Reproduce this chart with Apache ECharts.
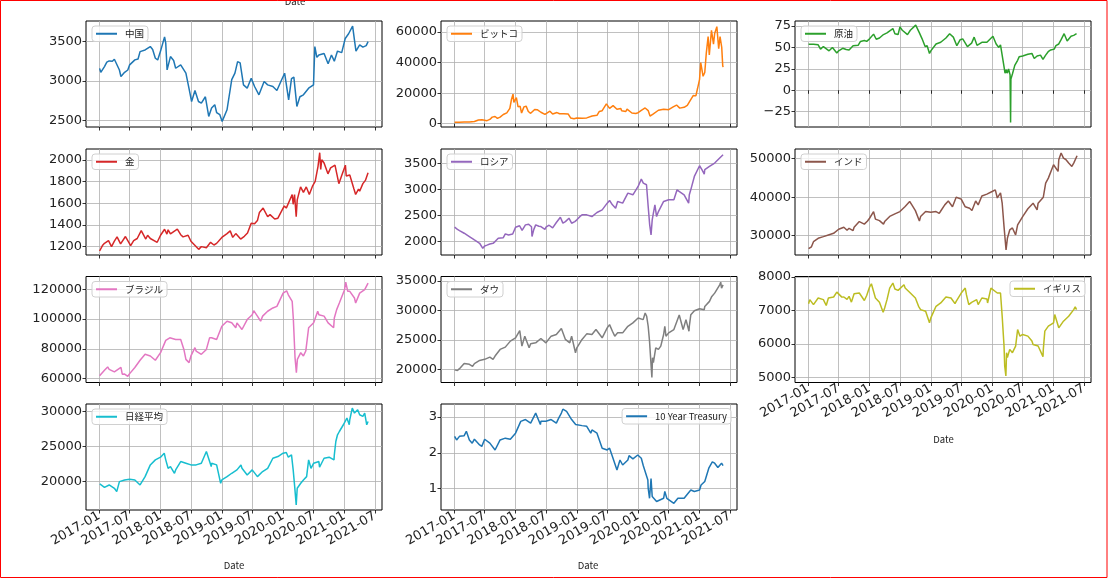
<!DOCTYPE html>
<html><head><meta charset="utf-8">
<script src="https://cdn.jsdelivr.net/npm/echarts@6/dist/echarts.min.js"></script>
<style>html,body{margin:0;padding:0;background:#fff}#c{width:1109px;height:579px}</style>
</head><body><div id="c"></div><script>
const china = [['2017-01-03',3160],['2017-01-10',3110],['2017-02-01',3183],['2017-02-15',3240],['2017-03-01',3255],['2017-03-20',3250],['2017-04-01',3276],['2017-04-10',3297],['2017-05-01',3140],['2017-05-10',3057],['2017-06-01',3110],['2017-06-20',3140],['2017-07-01',3205],['2017-08-01',3268],['2017-08-20',3280],['2017-09-01',3373],['2017-10-01',3394],['2017-11-01',3437],['2017-11-15',3400],['2017-12-01',3289],['2017-12-15',3268],['2018-01-01',3380],['2018-01-25',3560],['2018-02-01',3480],['2018-02-09',3141],['2018-03-01',3310],['2018-03-20',3260],['2018-04-01',3162],['2018-05-01',3205],['2018-06-01',3100],['2018-06-20',2900],['2018-07-05',2740],['2018-07-25',2880],['2018-08-15',2740],['2018-09-01',2719],['2018-09-25',2800],['2018-10-15',2550],['2018-11-01',2656],['2018-11-20',2700],['2018-12-01',2600],['2018-12-20',2572],['2019-01-03',2487],['2019-02-01',2635],['2019-03-01',3017],['2019-03-20',3100],['2019-04-05',3247],['2019-04-20',3230],['2019-05-10',2951],['2019-06-01',2909],['2019-06-25',3036],['2019-07-15',2930],['2019-08-10',2825],['2019-09-10',2993],['2019-10-01',2951],['2019-11-01',2930],['2019-11-25',2880],['2019-12-20',3000],['2020-01-10',3099],['2020-02-03',2761],['2020-02-20',3030],['2020-03-05',3050],['2020-03-23',2677],['2020-04-10',2800],['2020-05-01',2825],['2020-06-01',2909],['2020-06-30',2951],['2020-07-08',3437],['2020-07-20',3300],['2020-08-01',3331],['2020-09-01',3350],['2020-09-25',3220],['2020-10-15',3330],['2020-11-01',3252],['2020-11-20',3380],['2020-12-15',3360],['2021-01-05',3540],['2021-01-25',3600],['2021-02-18',3698],['2021-03-01',3520],['2021-03-10',3380],['2021-04-01',3458],['2021-04-20',3430],['2021-05-10',3450],['2021-05-21',3500]];
const bitcoin = [['2017-01-03',1000],['2017-02-01',1000],['2017-03-01',1200],['2017-04-01',1100],['2017-05-01',1400],['2017-05-25',2400],['2017-06-15',2600],['2017-07-15',2000],['2017-08-01',2800],['2017-08-15',4300],['2017-09-01',4700],['2017-09-15',3500],['2017-10-01',4300],['2017-10-20',6000],['2017-11-10',7100],['2017-11-28',10000],['2017-12-08',16000],['2017-12-17',19300],['2017-12-22',14000],['2018-01-06',17000],['2018-01-16',11000],['2018-01-28',11500],['2018-02-06',7000],['2018-02-20',11000],['2018-03-05',11500],['2018-03-18',8000],['2018-04-01',6800],['2018-04-25',9300],['2018-05-10',9200],['2018-06-01',7500],['2018-06-25',6100],['2018-07-25',8200],['2018-08-10',6300],['2018-09-05',7300],['2018-09-20',6500],['2018-10-15',6500],['2018-11-10',6400],['2018-11-25',3800],['2018-12-15',3300],['2019-01-01',3800],['2019-02-01',3500],['2019-03-01',3800],['2019-04-02',5000],['2019-05-01',5500],['2019-05-15',8000],['2019-06-01',8500],['2019-06-26',13000],['2019-07-15',10000],['2019-08-05',11800],['2019-08-28',9500],['2019-09-20',10000],['2019-09-25',8500],['2019-10-20',8000],['2019-10-27',9500],['2019-11-25',7000],['2019-12-18',6700],['2020-01-01',7200],['2020-01-20',8700],['2020-02-12',10300],['2020-03-01',8600],['2020-03-12',5000],['2020-04-01',6500],['2020-05-01',8800],['2020-06-01',9500],['2020-07-01',9200],['2020-07-28',11000],['2020-08-17',12200],['2020-09-05',10200],['2020-10-01',10700],['2020-10-20',12000],['2020-11-05',15000],['2020-11-25',18500],['2020-12-10',18200],['2020-12-20',23000],['2021-01-01',29000],['2021-01-08',40000],['2021-01-22',31000],['2021-02-01',33500],['2021-02-10',46000],['2021-02-21',57000],['2021-02-28',45000],['2021-03-13',61000],['2021-03-25',52000],['2021-04-01',59000],['2021-04-14',63500],['2021-04-25',49000],['2021-05-03',57000],['2021-05-10',56000],['2021-05-13',50000],['2021-05-19',38000],['2021-05-21',37000]];
const oil = [['2017-01-03',53.7],['2017-01-10',52],['2017-02-01',53.7],['2017-03-01',53],['2017-03-15',48],['2017-04-01',51],['2017-04-12',53],['2017-05-05',46],['2017-05-25',50],['2017-06-01',48],['2017-06-20',43.5],['2017-07-01',46],['2017-07-25',49],['2017-08-15',47.5],['2017-09-01',47],['2017-09-25',52],['2017-10-05',50],['2017-10-25',52.5],['2017-11-08',57],['2017-12-01',58],['2017-12-15',57],['2018-01-01',60],['2018-01-25',65.5],['2018-02-10',59.5],['2018-03-01',61],['2018-03-25',65],['2018-04-15',67],['2018-05-20',72],['2018-06-01',66],['2018-06-20',65],['2018-07-01',74],['2018-07-15',70],['2018-08-15',65],['2018-09-01',70],['2018-10-03',76],['2018-10-25',67],['2018-11-10',60],['2018-11-28',51],['2018-12-10',52],['2018-12-24',43],['2019-01-01',46],['2019-02-01',54],['2019-03-01',56],['2019-04-01',61],['2019-04-23',66],['2019-05-15',62],['2019-06-05',52],['2019-06-25',59],['2019-07-10',60],['2019-08-07',51],['2019-09-01',55],['2019-09-16',62],['2019-10-03',52.5],['2019-11-01',56],['2019-12-01',56],['2020-01-06',63],['2020-01-25',54],['2020-02-10',50],['2020-02-20',53],['2020-03-09',31],['2020-03-18',20],['2020-03-25',24],['2020-04-01',20],['2020-04-08',25],['2020-04-17',18],['2020-04-20',-37.6],['2020-04-22',13],['2020-05-01',19],['2020-05-15',29],['2020-06-01',35],['2020-06-10',39],['2020-07-01',40],['2020-08-01',42],['2020-08-25',43],['2020-09-08',37],['2020-09-25',40],['2020-10-15',41],['2020-10-30',36],['2020-11-15',41],['2020-11-30',45],['2020-12-15',47],['2021-01-05',48],['2021-01-15',52],['2021-02-01',54],['2021-02-15',59],['2021-03-05',66],['2021-03-23',57.5],['2021-04-01',59],['2021-04-15',63],['2021-05-01',64],['2021-05-10',65],['2021-05-18',66]];
const gold = [['2017-01-03',1160],['2017-01-20',1210],['2017-02-01',1231],['2017-02-25',1255],['2017-03-15',1200],['2017-04-01',1250],['2017-04-17',1290],['2017-05-08',1225],['2017-06-06',1293],['2017-07-07',1210],['2017-07-25',1255],['2017-08-15',1275],['2017-09-08',1348],['2017-10-05',1270],['2017-10-16',1305],['2017-11-01',1275],['2017-12-12',1240],['2018-01-01',1305],['2018-01-25',1360],['2018-02-08',1315],['2018-02-15',1355],['2018-03-01',1318],['2018-04-11',1362],['2018-05-01',1310],['2018-05-15',1290],['2018-06-14',1305],['2018-07-01',1250],['2018-08-16',1175],['2018-09-01',1200],['2018-10-01',1190],['2018-10-26',1240],['2018-11-15',1215],['2018-12-01',1230],['2019-01-01',1285],['2019-02-01',1320],['2019-02-20',1345],['2019-03-07',1285],['2019-03-25',1320],['2019-04-23',1270],['2019-05-15',1295],['2019-06-03',1325],['2019-06-25',1415],['2019-07-15',1410],['2019-08-01',1440],['2019-08-13',1515],['2019-09-04',1555],['2019-10-01',1475],['2019-10-15',1495],['2019-11-12',1455],['2019-12-01',1462],['2020-01-08',1575],['2020-01-20',1555],['2020-02-24',1680],['2020-03-01',1590],['2020-03-09',1680],['2020-03-19',1475],['2020-03-25',1630],['2020-04-14',1750],['2020-05-01',1700],['2020-05-18',1750],['2020-06-05',1680],['2020-06-25',1760],['2020-07-10',1800],['2020-07-27',1940],['2020-08-06',2065],['2020-08-12',1910],['2020-08-18',2000],['2020-09-01',1970],['2020-09-24',1870],['2020-10-10',1925],['2020-11-05',1950],['2020-11-28',1780],['2020-12-15',1855],['2021-01-06',1950],['2021-01-11',1850],['2021-02-01',1860],['2021-02-26',1730],['2021-03-08',1680],['2021-03-25',1730],['2021-04-01',1710],['2021-04-20',1780],['2021-05-05',1810],['2021-05-21',1880]];
const russia = [['2017-01-03',2272],['2017-01-20',2230],['2017-02-01',2207],['2017-02-10',2240],['2017-03-01',2155],['2017-04-01',2091],['2017-05-01',2026],['2017-06-01',1961],['2017-06-20',1864],['2017-07-01',1909],['2017-07-15',1925],['2017-08-01',1948],['2017-08-20',1960],['2017-09-01',1994],['2017-09-20',2060],['2017-10-01',2091],['2017-10-20',2070],['2017-11-01',2142],['2017-11-20',2120],['2017-12-01',2155],['2017-12-15',2140],['2018-01-01',2272],['2018-01-25',2300],['2018-02-01',2317],['2018-02-09',2210],['2018-03-01',2317],['2018-03-20',2330],['2018-04-06',2280],['2018-04-09',2091],['2018-04-20',2230],['2018-05-01',2317],['2018-05-20',2290],['2018-06-01',2284],['2018-06-25',2230],['2018-07-01',2272],['2018-07-20',2310],['2018-08-10',2260],['2018-09-01',2362],['2018-09-25',2465],['2018-10-10',2350],['2018-10-25',2380],['2018-11-01',2381],['2018-11-15',2446],['2018-12-01',2349],['2018-12-20',2380],['2019-01-01',2414],['2019-01-20',2480],['2019-02-01',2511],['2019-03-01',2511],['2019-04-01',2478],['2019-05-01',2556],['2019-06-01',2608],['2019-07-01',2737],['2019-07-15',2789],['2019-08-01',2705],['2019-08-20',2640],['2019-09-01',2770],['2019-10-01',2737],['2019-11-01',2931],['2019-12-01',2899],['2020-01-01',3060],['2020-01-20',3203],['2020-02-01',3125],['2020-02-20',3093],['2020-03-01',2672],['2020-03-10',2317],['2020-03-18',2123],['2020-03-25',2414],['2020-04-01',2543],['2020-04-10',2705],['2020-04-20',2478],['2020-05-01',2575],['2020-06-01',2770],['2020-07-01',2802],['2020-08-01',2802],['2020-08-20',2996],['2020-09-01',2964],['2020-10-01',2899],['2020-10-28',2737],['2020-11-01',2900],['2020-11-10',3000],['2020-12-01',3254],['2021-01-01',3461],['2021-01-15',3384],['2021-01-29',3300],['2021-02-01',3384],['2021-03-01',3448],['2021-04-01',3513],['2021-05-01',3610],['2021-05-21',3675]];
const india = [['2017-01-03',26600],['2017-01-20',27100],['2017-02-01',28435],['2017-03-01',29300],['2017-04-01',29740],['2017-05-01',30174],['2017-06-01',30609],['2017-07-01',31652],['2017-08-01',32174],['2017-08-20',31400],['2017-09-01',31913],['2017-09-25',31300],['2017-10-01',32174],['2017-11-01',33652],['2017-12-01',33000],['2017-12-20',33800],['2018-01-01',34522],['2018-01-25',36260],['2018-02-05',34300],['2018-03-01',33900],['2018-03-25',33000],['2018-04-01',33652],['2018-05-01',35000],['2018-06-01',35652],['2018-07-01',36260],['2018-08-01',37600],['2018-08-28',38870],['2018-09-10',38000],['2018-10-01',36500],['2018-10-25',33800],['2018-11-01',34957],['2018-12-01',36260],['2019-01-01',36100],['2019-02-01',36260],['2019-02-20',35800],['2019-03-01',36400],['2019-03-25',38000],['2019-04-15',39000],['2019-05-10',37500],['2019-06-01',40000],['2019-07-01',39500],['2019-07-25',37500],['2019-08-20',37130],['2019-09-03',36522],['2019-09-25',39000],['2019-10-10',38000],['2019-11-01',40300],['2019-12-01',40800],['2020-01-01',41478],['2020-01-20',41900],['2020-02-01',39800],['2020-02-20',41100],['2020-03-01',38435],['2020-03-12',32348],['2020-03-24',26261],['2020-04-01',29304],['2020-04-15',31478],['2020-05-01',32000],['2020-05-20',30174],['2020-06-01',32783],['2020-07-01',34957],['2020-08-01',37000],['2020-09-01',38435],['2020-09-25',36696],['2020-10-01',38435],['2020-11-01',40000],['2020-11-15',43652],['2020-12-01',44957],['2021-01-01',48435],['2021-01-28',46696],['2021-02-01',49739],['2021-02-15',51478],['2021-03-01',50174],['2021-03-15',49800],['2021-04-01',48870],['2021-04-20',48000],['2021-05-01',48870],['2021-05-21',50783]];
const brazil = [['2017-01-03',61800],['2017-02-01',65600],['2017-02-20',67800],['2017-03-01',66200],['2017-04-01',64500],['2017-05-10',67500],['2017-05-18',62900],['2017-06-01',63000],['2017-06-20',61500],['2017-07-01',63300],['2017-08-01',67400],['2017-09-01',72300],['2017-10-01',76300],['2017-11-01',75200],['2017-12-01',72300],['2018-01-01',77400],['2018-02-01',85700],['2018-02-25',87400],['2018-03-01',86300],['2018-04-01',86300],['2018-05-01',86300],['2018-05-20',79600],['2018-06-01',72900],['2018-06-20',70700],['2018-07-01',75200],['2018-07-25',80800],['2018-08-01',78500],['2018-09-01',76300],['2018-10-01',79600],['2018-10-20',87400],['2018-11-01',87400],['2018-12-01',86300],['2019-01-01',95200],['2019-02-01',98600],['2019-03-01',97500],['2019-03-25',94200],['2019-04-01',97500],['2019-05-01',93000],['2019-06-01',99700],['2019-07-01',103000],['2019-07-10',105700],['2019-08-01',102000],['2019-08-20',98600],['2019-09-01',102000],['2019-10-01',105300],['2019-11-01',107500],['2019-11-25',108600],['2019-12-01',109700],['2020-01-01',117500],['2020-01-22',119100],['2020-02-01',116400],['2020-02-24',112000],['2020-03-02',100000],['2020-03-12',74100],['2020-03-20',64000],['2020-03-26',72900],['2020-04-01',71800],['2020-04-15',77400],['2020-05-01',75200],['2020-05-15',78500],['2020-06-01',94200],['2020-07-01',97500],['2020-07-25',105300],['2020-08-01',103000],['2020-09-01',102000],['2020-09-25',97500],['2020-10-01',98600],['2020-10-28',94200],['2020-11-01',100800],['2020-11-15',106400],['2020-12-01',110800],['2021-01-01',119800],['2021-01-08',124900],['2021-01-20',118700],['2021-02-01',118700],['2021-03-01',114200],['2021-03-08',110800],['2021-04-01',117500],['2021-05-01',119800],['2021-05-21',124200]];
const dow = [['2017-01-03',19900],['2017-01-20',19800],['2017-02-01',20110],['2017-03-01',21000],['2017-04-01',20840],['2017-04-20',20500],['2017-05-01',20950],['2017-06-01',21500],['2017-07-01',21690],['2017-08-01',22070],['2017-08-20',21700],['2017-09-01',22250],['2017-10-01',23370],['2017-11-01',23760],['2017-12-01',24780],['2018-01-01',25340],['2018-01-26',26570],['2018-02-08',23930],['2018-02-25',25620],['2018-03-01',25340],['2018-03-23',23650],['2018-04-01',24320],['2018-05-01',24490],['2018-06-01',25220],['2018-07-01',24490],['2018-08-01',25620],['2018-09-01',25900],['2018-10-01',26910],['2018-10-25',25060],['2018-11-01',25220],['2018-11-20',24490],['2018-12-01',25620],['2018-12-24',22810],['2019-01-01',23650],['2019-02-01',25060],['2019-03-01',26010],['2019-04-01',25900],['2019-04-25',26740],['2019-05-01',26460],['2019-06-01',25340],['2019-07-01',27020],['2019-07-15',27580],['2019-08-01',26460],['2019-08-15',25620],['2019-09-01',26180],['2019-10-01',26180],['2019-11-01',27300],['2019-12-01',27870],['2020-01-01',28710],['2020-01-31',28430],['2020-02-12',29550],['2020-02-21',28990],['2020-03-01',27300],['2020-03-09',24780],['2020-03-16',21690],['2020-03-23',18600],['2020-03-27',21970],['2020-04-01',21130],['2020-04-15',23650],['2020-05-01',23370],['2020-05-15',23930],['2020-06-01',25900],['2020-06-08',27300],['2020-06-15',25620],['2020-07-01',26180],['2020-08-01',26740],['2020-09-02',29200],['2020-09-25',26740],['2020-10-01',27300],['2020-10-12',28430],['2020-10-30',26460],['2020-11-01',27300],['2020-11-10',29270],['2020-12-01',29940],['2021-01-01',30280],['2021-01-29',30110],['2021-02-01',30670],['2021-03-01',31520],['2021-03-15',32360],['2021-04-01',32920],['2021-05-01',34320],['2021-05-07',34770],['2021-05-12',33770],['2021-05-21',34320]];
const uk = [['2017-01-03',7200],['2017-01-10',7325],['2017-02-01',7175],['2017-03-01',7374],['2017-04-01',7325],['2017-04-18',7150],['2017-05-01',7374],['2017-06-01',7404],['2017-06-20',7550],['2017-07-01',7523],['2017-07-20',7400],['2017-08-01',7404],['2017-08-20',7330],['2017-09-01',7424],['2017-09-15',7250],['2017-10-01',7503],['2017-11-01',7523],['2017-12-01',7300],['2017-12-15',7450],['2018-01-01',7700],['2018-01-12',7801],['2018-02-05',7374],['2018-03-01',7245],['2018-03-23',6947],['2018-04-01',7076],['2018-04-15',7325],['2018-05-01',7672],['2018-05-20',7821],['2018-06-01',7643],['2018-06-20',7603],['2018-07-01',7573],['2018-07-25',7772],['2018-08-01',7672],['2018-09-01',7523],['2018-10-01',7374],['2018-10-20',7126],['2018-11-01',7026],['2018-12-01',6977],['2018-12-24',6629],['2019-01-01',6778],['2019-02-01',7126],['2019-03-01',7225],['2019-04-01',7404],['2019-05-01',7374],['2019-05-25',7205],['2019-06-01',7275],['2019-07-01',7523],['2019-07-25',7672],['2019-08-01',7474],['2019-08-15',7175],['2019-09-01',7245],['2019-10-01',7325],['2019-10-10',7175],['2019-11-01',7374],['2019-12-01',7344],['2019-12-05',7225],['2019-12-25',7672],['2020-01-01',7623],['2020-02-01',7523],['2020-02-20',7523],['2020-03-01',6828],['2020-03-12',5934],['2020-03-16',5338],['2020-03-23',5040],['2020-03-27',5735],['2020-04-01',5586],['2020-04-15',5834],['2020-05-01',5735],['2020-05-20',5934],['2020-06-01',6430],['2020-06-15',6231],['2020-07-01',6281],['2020-08-01',6231],['2020-08-25',6083],['2020-09-01',5983],['2020-10-01',5934],['2020-10-30',5616],['2020-11-01',5834],['2020-11-10',6381],['2020-12-01',6530],['2021-01-01',6629],['2021-01-08',6877],['2021-02-01',6480],['2021-03-01',6679],['2021-04-01',6828],['2021-05-01',7026],['2021-05-10',7106],['2021-05-18',7026]];
const nikkei = [['2017-01-04',19667],['2017-02-01',19190],['2017-03-01',19524],['2017-04-01',19050],['2017-04-15',18570],['2017-05-01',20000],['2017-06-01',20240],['2017-07-01',20330],['2017-08-01',20240],['2017-09-01',19524],['2017-10-01',20710],['2017-11-01',22380],['2017-12-01',23100],['2018-01-01',23480],['2018-01-23',24050],['2018-02-01',23100],['2018-02-15',21900],['2018-03-01',22140],['2018-03-25',21190],['2018-04-01',21670],['2018-05-01',22860],['2018-06-01',22620],['2018-07-01',22380],['2018-08-01',22380],['2018-09-01',22620],['2018-10-01',24290],['2018-10-30',22140],['2018-11-01',22620],['2018-12-01',22380],['2018-12-25',19760],['2019-01-01',20240],['2019-02-01',20710],['2019-03-01',21190],['2019-04-01',21670],['2019-04-25',22380],['2019-05-01',21900],['2019-06-01',20950],['2019-07-01',21670],['2019-08-01',20710],['2019-09-01',21430],['2019-10-01',21900],['2019-11-01',23330],['2019-12-01',23570],['2020-01-01',24050],['2020-01-20',24140],['2020-02-01',23480],['2020-02-20',23810],['2020-03-01',21670],['2020-03-10',19290],['2020-03-19',16670],['2020-03-25',19050],['2020-04-01',18810],['2020-04-15',19760],['2020-05-01',20240],['2020-05-20',20710],['2020-06-01',23100],['2020-06-15',21900],['2020-07-01',22620],['2020-08-01',22860],['2020-08-05',22050],['2020-09-01',23330],['2020-10-01',23480],['2020-10-30',23100],['2020-11-01',23810],['2020-11-10',25710],['2020-11-20',26670],['2020-12-01',27140],['2020-12-25',28100],['2021-01-01',28330],['2021-01-15',29050],['2021-01-29',28100],['2021-02-01',28810],['2021-02-16',30480],['2021-03-01',29760],['2021-03-20',30240],['2021-04-01',29520],['2021-04-20',29290],['2021-05-01',29760],['2021-05-13',28100],['2021-05-21',28570]];
const treasury = [['2017-01-03',2.46],['2017-01-15',2.36],['2017-02-01',2.46],['2017-03-01',2.48],['2017-03-14',2.6],['2017-04-01',2.36],['2017-04-18',2.27],['2017-05-01',2.38],['2017-06-01',2.22],['2017-06-14',2.18],['2017-07-01',2.38],['2017-08-01',2.27],['2017-09-01',2.08],['2017-10-01',2.36],['2017-11-01',2.41],['2017-12-01',2.38],['2018-01-01',2.55],['2018-02-01',2.88],['2018-03-01',2.93],['2018-04-01',2.83],['2018-05-01',3.11],['2018-05-29',2.79],['2018-06-01',2.88],['2018-07-01',2.88],['2018-08-01',2.93],['2018-09-01',2.83],['2018-09-15',2.97],['2018-10-01',3.11],['2018-10-10',3.22],['2018-11-01',3.16],['2018-11-10',3.21],['2018-12-01',2.93],['2018-12-25',2.79],['2019-01-01',2.76],['2019-02-01',2.76],['2019-03-01',2.74],['2019-03-25',2.55],['2019-04-01',2.64],['2019-05-01',2.55],['2019-06-01',2.13],['2019-07-01',2.08],['2019-07-15',2.13],['2019-08-01',1.9],['2019-08-28',1.52],['2019-09-01',1.57],['2019-09-15',1.8],['2019-10-01',1.66],['2019-10-10',1.62],['2019-11-01',1.8],['2019-11-08',1.92],['2019-12-01',1.83],['2019-12-30',1.94],['2020-01-01',1.92],['2020-01-20',1.85],['2020-02-01',1.64],['2020-02-12',1.66],['2020-02-28',1.24],['2020-03-01',1.01],['2020-03-09',0.73],['2020-03-18',1.28],['2020-03-25',0.78],['2020-04-01',0.73],['2020-04-20',0.64],['2020-05-01',0.68],['2020-06-01',0.73],['2020-06-08',0.92],['2020-06-20',0.73],['2020-07-01',0.68],['2020-08-01',0.59],['2020-08-05',0.54],['2020-08-25',0.73],['2020-09-01',0.68],['2020-10-01',0.73],['2020-10-25',0.87],['2020-11-01',0.82],['2020-11-10',0.96],['2020-12-01',0.92],['2021-01-01',0.96],['2021-01-10',1.1],['2021-02-01',1.2],['2021-02-25',1.57],['2021-03-01',1.52],['2021-03-18',1.75],['2021-04-01',1.71],['2021-04-20',1.59],['2021-05-01',1.64],['2021-05-12',1.71],['2021-05-21',1.64]];

const names = ['中国','ビットコ','原油','金','ロシア','インド','ブラジル','ダウ','イギリス','日経平均','10 Year Treasury'];
const seriesData = [china, bitcoin, oil, gold, russia, india, brazil, dow, uk, nikkei, treasury];
const colors = ['#1f77b4','#ff7f0e','#2ca02c','#d62728','#9467bd','#8c564b','#e377c2','#7f7f7f','#bcbd22','#17becf','#1f77b4'];
const yTicks = [[2500,3000,3500],[0,20000,40000,60000],[-25,0,25,50,75],[1200,1400,1600,1800,2000],[2000,2500,3000,3500],[30000,40000,50000],[60000,80000,100000,120000],[20000,25000,30000,35000],[5000,6000,7000,8000],[20000,25000,30000],[1,2,3]];
const yRange = [[2416,3762],[-2150,67170],[-42.8,80.8],[1123,2099],[1734,3785],[24965,52530],[57320,128700],[17760,35740],[4842,8018],[15957,31057],[0.403,3.364]];
const xTickLabels = ['2017-01','2017-07','2018-01','2018-07','2019-01','2019-07','2020-01','2020-07','2021-01','2021-07'];

const colLeft=[86,441,795], W=296, rowTop=[21,149,276.5,404], H=106;
const toTime = s => { const p = s.split('-').map(Number); return new Date(p[0], p[1]-1, p[2]||1).getTime(); };
const XMIN = toTime('2016-10-14'), XMAX = toTime('2021-08-12');
const majorTicks = xTickLabels.map(toTime);
const labelOf = {}; xTickLabels.forEach((s,k)=>{ labelOf[majorTicks[k]] = s; });
const FONT='DejaVu Sans', JFONT='"Noto Sans CJK JP", "Noto Sans", sans-serif';

const grids=[],xAxes=[],yAxes=[],series=[],legends=[];
names.forEach((name,i)=>{
  const col = i<9 ? i%3 : i-9;
  const row = i<9 ? Math.floor(i/3) : 3;
  const left=colLeft[col], top=rowTop[row];
  grids.push({left, top, width:W, height:H, show:true, borderColor:'#000', borderWidth:1, backgroundColor:'transparent', containLabel:false, outerBoundsMode:'none'});
  const showX = (row===3) || (col===2 && row===2);
  xAxes.push({type:'value', gridIndex:i, min:XMIN, max:XMAX,
    axisLine:{show:false},
    axisTick:{show:true, customValues:majorTicks, length:3.5, lineStyle:{color:'#000',width:0.8}},
    axisLabel:{show:showX, customValues:majorTicks, rotate:30, margin:5, hideOverlap:false, fontSize:13, fontFamily:FONT, color:'#222',
      formatter:v=>labelOf[v] || ''},
    splitLine:{show:true, lineStyle:{color:'#b0b0b0', width:0.8}}});
  yAxes.push({type:'value', gridIndex:i, min:yRange[i][0], max:yRange[i][1],
    axisLine:{show:false},
    axisTick:{show:true, customValues:yTicks[i], length:3.5, lineStyle:{color:'#000',width:0.8}},
    axisLabel:{customValues:yTicks[i], margin:4, fontSize:13, fontFamily:FONT, color:'#222', formatter:v=>String(v).replace('-','\u2212')},
    splitLine:{show:true, lineStyle:{color:'#b0b0b0', width:0.8}}});
  series.push({type:'line', name, xAxisIndex:i, yAxisIndex:i, data:seriesData[i].map(d=>[toTime(d[0]), d[1]]), showSymbol:false, symbol:'none',
    lineStyle:{width:1.5,color:colors[i]}, itemStyle:{color:colors[i]}, animation:false, z:2});
  const rightLegend = (name==='イギリス' || name==='10 Year Treasury');
  const lg = {data:[name], selectedMode:false, orient:'horizontal', icon:'rect', itemWidth:21, itemHeight:2, itemGap:5,
    padding:[3,4], borderColor:'#d0d0d0', borderWidth:1, borderRadius:3, backgroundColor:'rgba(255,255,255,0.8)',
    textStyle:{fontSize:9.5, fontFamily:JFONT, color:'#222', padding:[0,0,0,3]}, z:10};
  if(rightLegend){ lg.right = 1109-(left+W)+6; lg.top = top+4.5; }
  else { lg.left = left+6; lg.top = top+5; }
  legends.push(lg);
});

const dateText=(x,y)=>({type:'text', x, y, style:{text:'Date', fontSize:9.5, fontFamily:JFONT, fill:'#222', textAlign:'center', textVerticalAlign:'middle'}});
const option = {
  animation:false,
  grid:grids, xAxis:xAxes, yAxis:yAxes, series, legend:legends,
  graphic:[dateText(234,565), dateText(588,565), dateText(943.5,439), dateText(295,1),
    {type:'rect', shape:{x:0.5,y:0.5,width:1106.5,height:577}, style:{fill:null, stroke:'#ff0000', lineWidth:1}, z:100}]
};
const chart = echarts.init(document.getElementById('c'), null, {renderer:'canvas'});
chart.setOption(option);
</script></body></html>
